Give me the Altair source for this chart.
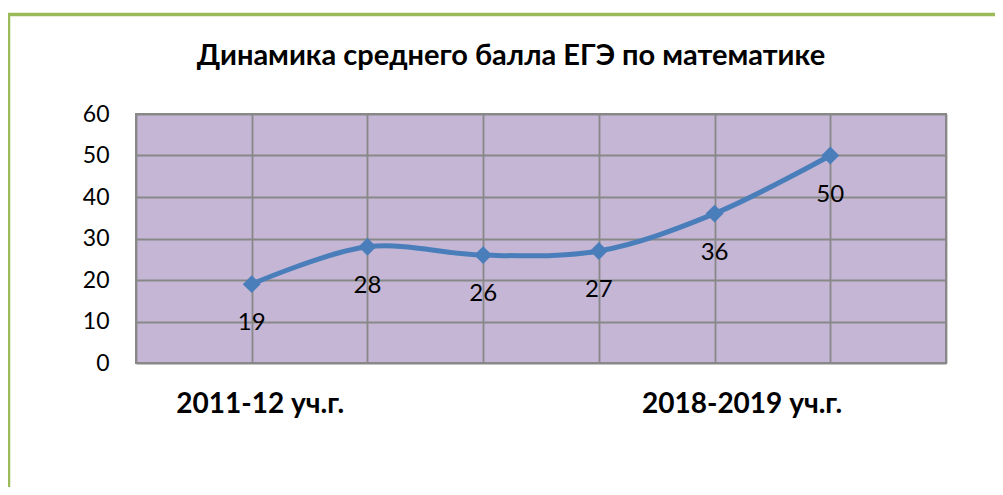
import altair as alt
import pandas as pd

# ---- data ----
positions = [1, 2, 3, 4, 5, 6]
scores = [19, 28, 26, 27, 36, 50]
label_positions = [1, 5]
label_texts = ["2011-12 уч.г.", "2018-2019 уч.г."]
title_text = "Динамика среднего балла ЕГЭ по математике"
y_ticks = [0, 10, 20, 30, 40, 50, 60]
x_grid = [0, 1, 2, 3, 4, 5, 6, 7]

df = pd.DataFrame({"pos": positions, "score": scores})

label_expr = " : ".join(
    f"datum.value == {p} ? '{t}'" for p, t in zip(label_positions, label_texts)
) + " : ''"

FONT = "Lato, Open Sans, sans-serif"
BLUE = "#4A7EBB"

x_enc = alt.X(
    "pos:Q",
    scale=alt.Scale(domain=[0, 7], nice=False, zero=False),
    axis=alt.Axis(
        values=x_grid,
        labelExpr=label_expr,
        title=None,
        grid=True,
        ticks=False,
        domain=False,
        labelOverlap=False,
        labelFlush=False,
        labelLimit=500,
        labelFont=FONT,
        labelFontSize=28,
        labelFontWeight="bold",
        labelColor="#000000",
        labelPadding=27,
        labelOffset={"condition": {"test": "datum.value == 1", "value": 8}, "value": 27},
    ),
)
y_enc = alt.Y(
    "score:Q",
    scale=alt.Scale(domain=[0, 60], nice=False),
    axis=alt.Axis(
        values=y_ticks,
        title=None,
        grid=True,
        ticks=False,
        domain=False,
        labelFont=FONT,
        labelFontSize=23,
        labelColor="#000000",
        labelPadding=27,
    ),
)

base = alt.Chart(df)

line = base.mark_line(interpolate="catmull-rom", strokeWidth=5, color=BLUE).encode(x=x_enc, y=y_enc)
pts = base.mark_point(shape="diamond", filled=True, size=320, color=BLUE, opacity=1).encode(x="pos:Q", y="score:Q")
txt = base.mark_text(dy=39, fontSize=24, font=FONT, color="#000000").encode(
    x="pos:Q", y="score:Q", text="score:Q"
)

one = alt.Data(values=[{"t": title_text}])
title = alt.Chart(one).mark_text(
    font=FONT, fontSize=29, fontWeight="bold", color="#000000",
    align="center", baseline="middle", clip=False
).encode(x=alt.value(375), y=alt.value(-58), text="t:N")

frame_v = alt.Chart(one).mark_rule(color="#9BBB59", strokeWidth=4.5, clip=False).encode(
    x=alt.value(-128), y=alt.value(-101), y2=alt.value(400)
)
frame_h = alt.Chart(one).mark_rule(color="#9BBB59", strokeWidth=3.5, clip=False).encode(
    x=alt.value(-130), x2=alt.value(900), y=alt.value(-99.5)
)

chart = (
    alt.layer(line, pts, txt, title, frame_v, frame_h)
    .properties(
        width=810,
        height=249,
        autosize=alt.AutoSizeParams(type="none"),
        padding={"left": 128, "top": 106, "right": 49, "bottom": 124},
    )
    .configure(background="#FFFFFF")
    .configure_view(fill="#C4B6D4", stroke="#888888", strokeWidth=2)
    .configure_axis(gridColor="#888888", gridWidth=1.8, gridOpacity=1)
)

chart.save("out.html", embed_options={"renderer": "svg", "actions": False})
